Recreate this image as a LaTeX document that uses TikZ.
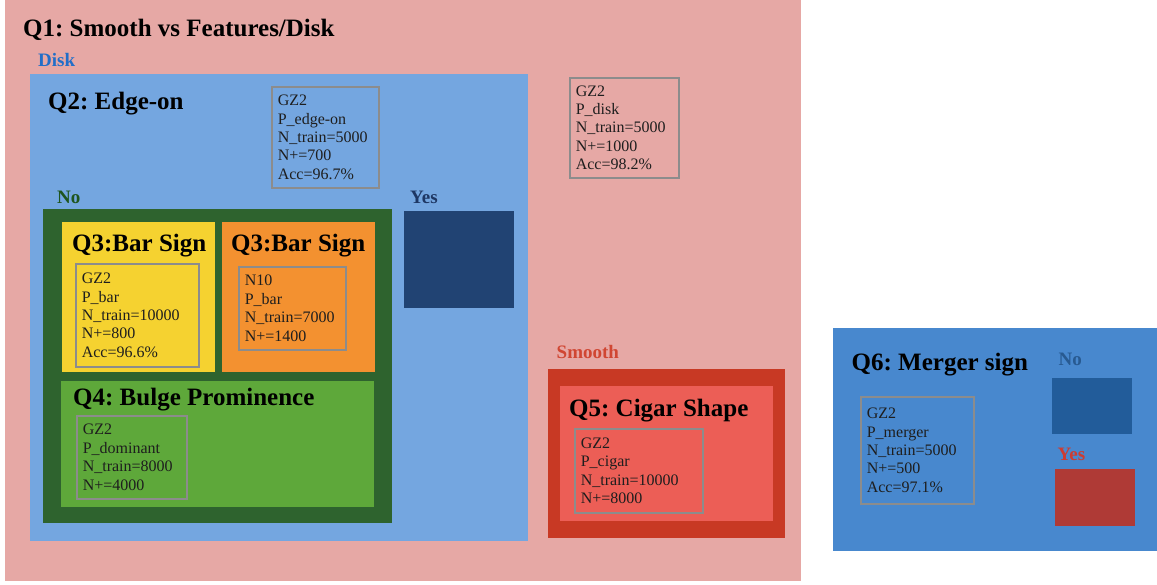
\documentclass[tikz,border=0pt]{standalone}
\usepackage{fontspec}
\setmainfont{Liberation Serif}
\frenchspacing
\definecolor{pinkbg}{HTML}{E6A8A5}
\definecolor{qtwoblue}{HTML}{74A6E0}
\definecolor{darkgreen}{HTML}{2E632E}
\definecolor{barYellow}{HTML}{F5D230}
\definecolor{barOrange}{HTML}{F39130}
\definecolor{lightgreen}{HTML}{5EA83A}
\definecolor{yesNavy}{HTML}{214373}
\definecolor{redOuter}{HTML}{C83924}
\definecolor{redInner}{HTML}{EC5E56}
\definecolor{qsixblue}{HTML}{4888CE}
\definecolor{noBox}{HTML}{225C9A}
\definecolor{yesRed}{HTML}{AF3A36}
\definecolor{diskLbl}{HTML}{226EC8}
\definecolor{noLbl}{HTML}{1E551E}
\definecolor{yesLbl}{HTML}{1E3764}
\definecolor{smoothLbl}{HTML}{D04632}
\definecolor{noSixLbl}{HTML}{285A91}
\definecolor{yesSixLbl}{HTML}{CD3C32}
\definecolor{dataBorder}{HTML}{8C8C8C}
\definecolor{dataText}{HTML}{1E1E1E}
\tikzset{
  panel/.style={rectangle, anchor=north west, inner sep=0pt, outer sep=0pt, draw=none},
  qtitle/.style={anchor=base west, inner sep=0pt, font=\fontsize{25}{28}\selectfont\bfseries\frenchspacing, text=black},
  branchlbl/.style={anchor=base west, inner sep=0pt, font=\fontsize{19}{22}\selectfont\bfseries},
  databox/.style={rectangle, anchor=north west, draw=dataBorder, line width=1.6pt, inner xsep=6pt, inner ysep=0pt,
    align=left, text=dataText, font=\fontsize{16}{18.4}\selectfont},
}
\newcommand{\pbox}[6]{% name, fill, x, y, w, h
  \node[panel, fill=#2, minimum width=#5pt, minimum height=#6pt] (#1) at (#3,#4) {};}
\newcommand{\dbox}[6]{% name, x, y, w, h, text
  \node[databox, text width=#4pt-12pt, minimum height=#5pt] (#1) at (#2,#3) {#6};}
\begin{document}
\begin{tikzpicture}[x=1pt,y=-1pt]
\useasboundingbox[fill=white] (0,0) rectangle (1157,585);
% Q1
\pbox{qone}{pinkbg}{5}{0}{796}{581}
\node[qtitle] (qonet) at (23,37) {Q1: Smooth vs Features/Disk};
\node[branchlbl, text=diskLbl] (disklbl) at (38,66.5) {Disk};
% Q2
\pbox{qtwo}{qtwoblue}{30}{74}{498}{467}
\node[qtitle] (qtwot) at (48,110) {Q2: Edge-on};
\dbox{edgedata}{271}{86}{107}{101}{GZ2\\P\_edge-on\\N\_train=5000\\N+=700\\Acc=96.7\%}
\dbox{diskdata}{569}{77}{109}{100}{GZ2\\P\_disk\\N\_train=5000\\N+=1000\\Acc=98.2\%}
\node[branchlbl, text=noLbl] (nolbl) at (57,204) {No};
\node[branchlbl, text=yesLbl] (yeslbl) at (410,204) {Yes};
\pbox{yesbox}{yesNavy}{404}{211}{110}{97}
% No branch
\pbox{nogreen}{darkgreen}{43}{209}{349}{314}
\pbox{qthreea}{barYellow}{62}{222}{153}{150}
\node[qtitle] (qthreeat) at (72,251.5) {Q3:Bar Sign};
\dbox{bardata}{75}{263}{123}{103}{GZ2\\P\_bar\\N\_train=10000\\N+=800\\Acc=96.6\%}
\pbox{qthreeb}{barOrange}{222}{222}{153}{150}
\node[qtitle] (qthreebt) at (231,251.5) {Q3:Bar Sign};
\dbox{nbardata}{238}{266}{107}{83}{N10\\P\_bar\\N\_train=7000\\N+=1400}
\pbox{qfour}{lightgreen}{61}{381}{313}{126}
\node[qtitle] (qfourt) at (73,406) {Q4: Bulge Prominence};
\dbox{bulgedata}{76}{415}{110}{83}{GZ2\\P\_dominant\\N\_train=8000\\N+=4000}
% Smooth branch
\node[branchlbl, text=smoothLbl] (smoothlbl) at (556.5,359) {Smooth};
\pbox{qfiveo}{redOuter}{548}{369}{237}{169}
\pbox{qfivei}{redInner}{560}{386}{213}{135}
\node[qtitle] (qfivet) at (569,416) {Q5: Cigar Shape};
\dbox{cigardata}{574}{428}{128}{84}{GZ2\\P\_cigar\\N\_train=10000\\N+=8000}
% Q6
\pbox{qsix}{qsixblue}{833}{328}{324}{223}
\node[qtitle] (qsixt) at (851.5,370.5) {Q6: Merger sign};
\dbox{mergerdata}{860}{396}{113}{107}{GZ2\\P\_merger\\N\_train=5000\\N+=500\\Acc=97.1\%}
\node[branchlbl, text=noSixLbl] (nosixlbl) at (1058.5,365.5) {No};
\pbox{nosixbox}{noBox}{1052}{378}{80}{56}
\node[branchlbl, text=yesSixLbl] (yessixlbl) at (1057.5,460.5) {Yes};
\pbox{yessixbox}{yesRed}{1055}{469}{80}{57}
\end{tikzpicture}
\end{document}
